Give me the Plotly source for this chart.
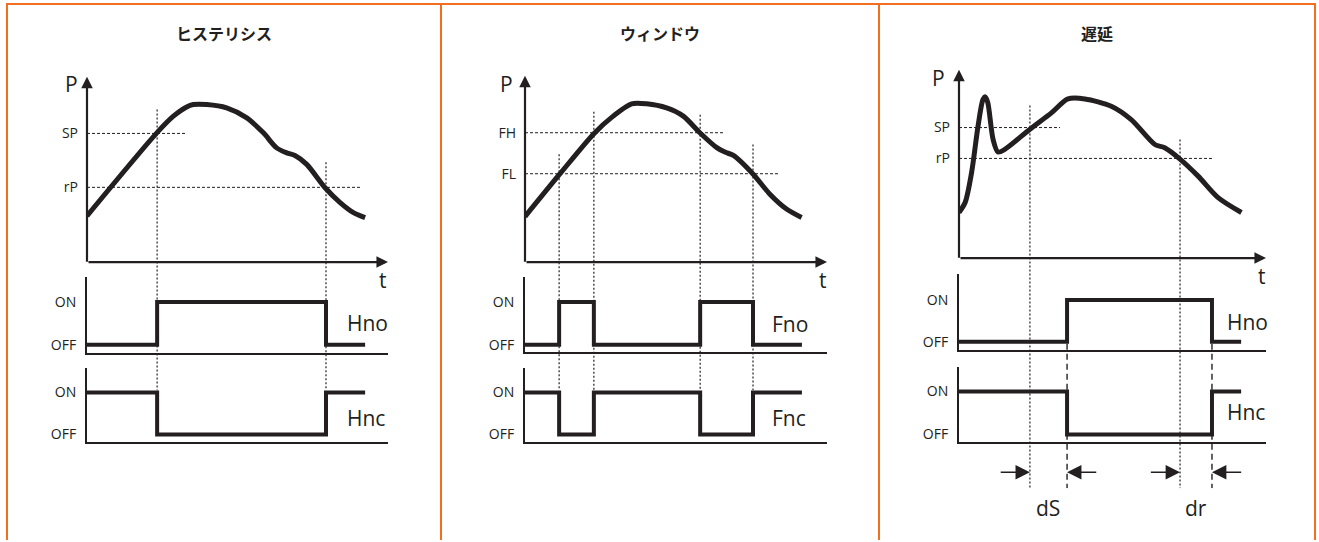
import plotly.graph_objects as go

# ── Canvas ───────────────────────────────────────────────────────────────────
W, H = 1319, 542
INK = "#231f20"
ORANGE = "#f26f21"
FONT = "Open Sans"
CJK = "Noto Sans CJK JP"

# ── Data ─────────────────────────────────────────────────────────────────────
titles = ["ヒステリシス", "ウィンドウ", "遅延"]
level_names = [["SP", "rP"], ["FH", "FL"], ["SP", "rP"]]
relay_names = [["Hno", "Hnc"], ["Fno", "Fnc"], ["Hno", "Hnc"]]
state_ticks = ["ON", "OFF"]

# pressure curves: t in 0..100 along the time axis, P in 0..100 up the P axis
hys_t = [0, 23.2, 28.7, 33.1, 35.3, 39.8, 46.4, 53.1, 58.6, 63.0, 66.4, 69.1, 73.0, 79.1, 84.1, 88.5, 92.4]
hys_p = [24.9, 69.7, 78.7, 83.7, 85.0, 85.0, 83.2, 77.8, 69.7, 61.6, 58.9, 57.5, 52.7, 40.1, 32.1, 26.7, 24.0]

win_t = [0, 11.4, 22.8, 29.2, 35.3, 40.3, 46.9, 52.4, 57.9, 63.5, 66.2, 69.0, 75.4, 81.1, 86.7, 91.6]
win_p = [24.4, 47.0, 68.9, 78.3, 84.9, 84.9, 82.7, 78.3, 69.4, 61.4, 59.0, 57.2, 47.4, 36.4, 28.3, 23.9]

dly_t = [0, 2.0, 4.1, 6.2, 7.8, 8.6, 9.4, 11.1, 12.7, 14.9, 23.0, 30.1, 35.5, 41.0, 49.6, 56.1, 63.8, 67.0, 71.9, 77.9, 84.4, 92.0]
dly_p = [24.2, 29.5, 45.4, 70.0, 84.1, 85.6, 82.4, 63.0, 56.3, 57.7, 68.3, 77.1, 84.5, 84.5, 80.6, 73.5, 60.3, 58.6, 52.7, 43.5, 32.1, 24.2]

# thresholds (same P units)
hys_levels = [69.4, 40.3]
win_levels = [69.4, 47.4]
dly_levels = [69.3, 52.9]

# instants where the curve crosses a threshold
hys_cross = [23.3, 79.4]
win_cross = [11.3, 22.8, 58.0, 75.5]
dly_cross = [23.1, 72.0]

# relay outputs: switching instants and states (1 = ON, 0 = OFF)
hys_relay_t = [0, 23.3, 79.4, 92.4]
hys_no = [0, 1, 0, 0]
hys_nc = [1, 0, 1, 1]

win_relay_t = [0, 11.3, 22.8, 58.0, 75.5, 91.7]
win_no = [0, 1, 0, 1, 0, 0]
win_nc = [1, 0, 1, 0, 1, 1]

dly_relay_t = [0, 35.2, 82.4, 91.9]
dly_no = [0, 1, 0, 0]
dly_nc = [1, 0, 1, 1]
dly_switch = [35.2, 82.4]

curves = [(hys_t, hys_p), (win_t, win_p), (dly_t, dly_p)]
levels = [hys_levels, win_levels, dly_levels]
crosses = [hys_cross, win_cross, dly_cross]
relays = [(hys_relay_t, hys_no, hys_nc), (win_relay_t, win_no, win_nc), (dly_relay_t, dly_no, dly_nc)]

# ── Layout geometry (pixels) ─────────────────────────────────────────────────
GEO = [
    dict(ox=87, xend=388, y0=263, ytop=77, ybot=392,
         no=(278, 303, 346, 354), nc=(369, 394, 436, 444),
         lvl_len=[32.6, 90.7], guide_top=[82.3, 53.8],
         P=(71, 84), t=(383, 281), rl=[(345, 324), (345, 420)], cx=224),
    dict(ox=525, xend=827, y0=263, ytop=76, ybot=392,
         no=(278, 303, 346, 353), nc=(369, 394, 436, 444),
         lvl_len=[66.2, 83.8], guide_top=[57.8, 80.7, 79.1, 63.1],
         P=(506, 84), t=(823, 281), rl=[(770, 325), (770, 420)], cx=660),
    dict(ox=959, xend=1266, y0=259, ytop=70, ybot=490,
         no=(275, 301, 343, 351), nc=(368, 393, 436, 444),
         lvl_len=[32.9, 82.7], guide_top=[81.0, 63.0],
         P=(939, 78), t=(1262, 277), rl=[(1225, 323), (1225, 414)], cx=1097),
]


def pxx(x):
    return x / W


def pxy(y):
    return 1 - y / H


def axname(n, a):
    return f"{a}axis" if n == 1 else f"{a}axis{n}"


def ref(n, a):
    return a if n == 1 else f"{a}{n}"


def label(x, y, text, size=21, xanchor="center", family=FONT, **kw):
    return dict(x=x, y=y, text=text, showarrow=False, xanchor=xanchor, yanchor="middle",
                font=dict(family=family, size=size, color=INK), **kw)


fig = go.Figure()
layout = {}
annotations = []
hidden = dict(showgrid=False, zeroline=False, fixedrange=True)

for i in range(3):
    g = GEO[i]
    nP, nNO, nNC = 3 * i + 1, 3 * i + 2, 3 * i + 3
    xdom = [pxx(g["ox"]), pxx(g["xend"])]
    p_per_px = 100 / (g["y0"] - g["ytop"])

    def p_at(ypx):
        return (g["y0"] - ypx) * p_per_px

    pmin = p_at(g["ybot"])

    # ── P vs t ──
    layout[axname(nP, "x")] = dict(domain=xdom, range=[0, 100], visible=False,
                                   anchor=ref(nP, "y"), **hidden)
    layout[axname(nP, "y")] = dict(
        domain=[pxy(g["ybot"]), pxy(g["ytop"])], range=[pmin, 100],
        anchor=ref(nP, "x"), showline=False, ticks="",
        tickvals=levels[i], ticktext=level_names[i],
        tickfont=dict(family=FONT, size=14, color=INK), ticklabelstandoff=8,
        **hidden)
    xr, yr = ref(nP, "x"), ref(nP, "y")

    for lv, ln in zip(levels[i], g["lvl_len"]):
        fig.add_trace(go.Scatter(x=[0, ln], y=[lv, lv], mode="lines",
                                 line=dict(color=INK, width=1, dash="3px,2px"),
                                 xaxis=xr, yaxis=yr, hoverinfo="skip"))
    for tc, top in zip(crosses[i], g["guide_top"]):
        fig.add_trace(go.Scatter(x=[tc, tc], y=[top, pmin], mode="lines",
                                 line=dict(color=INK, width=1.2, dash="2px,2px"),
                                 xaxis=xr, yaxis=yr, hoverinfo="skip"))
    if i == 2:
        for ts in dly_switch:
            fig.add_trace(go.Scatter(x=[ts, ts], y=[p_at(345), pmin], mode="lines",
                                     line=dict(color=INK, width=1.4, dash="6px,4px"),
                                     xaxis=xr, yaxis=yr, hoverinfo="skip"))
        ya = p_at(474)
        for head, tail in [(dly_cross[0], dly_cross[0] - 10), (dly_switch[0], dly_switch[0] + 10),
                           (dly_cross[1], dly_cross[1] - 10), (dly_switch[1], dly_switch[1] + 10)]:
            annotations.append(dict(x=head, y=ya, ax=tail, ay=ya, xref=xr, yref=yr,
                                    axref=xr, ayref=yr, text="", showarrow=True,
                                    arrowhead=2, arrowsize=1.8, arrowwidth=1.6,
                                    arrowcolor=INK))
        for mid, lab in [((dly_cross[0] + dly_switch[0]) / 2, "dS"),
                         ((dly_cross[1] + dly_switch[1]) / 2, "dr")]:
            annotations.append(label(mid, pxy(510), lab, xref=xr, yref="paper"))

    ct, cp = curves[i]
    fig.add_trace(go.Scatter(x=ct, y=cp, mode="lines",
                             line=dict(color=INK, width=5, shape="spline", smoothing=0.8),
                             xaxis=xr, yaxis=yr, hoverinfo="skip"))

    # axis arrows
    corner = -1.1 * p_per_px
    annotations.append(dict(x=0, y=100, ax=0, ay=corner, xref=xr, yref=yr, axref=xr,
                            ayref=yr, text="", showarrow=True, arrowhead=2,
                            arrowsize=1.05, arrowwidth=2.2, arrowcolor=INK))
    annotations.append(dict(x=100, y=0, ax=0, ay=0, xref=xr, yref=yr, axref=xr,
                            ayref=yr, text="", showarrow=True, arrowhead=2,
                            arrowsize=1.05, arrowwidth=2.2, arrowcolor=INK))

    # ── relay outputs ──
    rt, rno, rnc = relays[i]
    for n, box, st in [(nNO, g["no"], rno), (nNC, g["nc"], rnc)]:
        top, on, off, base = box
        span = off - on
        layout[axname(n, "x")] = dict(domain=xdom, range=[0, 100], anchor=ref(n, "y"),
                                      showline=True, linewidth=2, linecolor=INK,
                                      showticklabels=False, ticks="", **hidden)
        layout[axname(n, "y")] = dict(domain=[pxy(base), pxy(top)],
                                      range=[-(base - off) / span, 1 + (on - top) / span],
                                      anchor=ref(n, "x"), showline=True, linewidth=2,
                                      linecolor=INK, ticks="", tickvals=[1, 0],
                                      ticktext=state_ticks, ticklabelstandoff=6,
                                      tickfont=dict(family=FONT, size=14, color=INK),
                                      **hidden)
        fig.add_trace(go.Scatter(x=rt, y=st, mode="lines",
                                 line=dict(color=INK, width=4, shape="hv"),
                                 xaxis=ref(n, "x"), yaxis=ref(n, "y"), hoverinfo="skip"))

    # ── text ──
    annotations.append(label(pxx(g["cx"]), pxy(33), f"<b>{titles[i]}</b>", size=16,
                             family=CJK, xref="paper", yref="paper"))
    for lab, pos in [("P", g["P"]), ("t", g["t"])]:
        annotations.append(label(pxx(pos[0]), pxy(pos[1]), lab, xref="paper", yref="paper"))
    for lab, pos in zip(relay_names[i], g["rl"]):
        annotations.append(label(pxx(pos[0]), pxy(pos[1]), lab, xanchor="left",
                                 xref="paper", yref="paper"))

# ── orange frame ─────────────────────────────────────────────────────────────
frame = dict(color=ORANGE, width=2)
shapes = [dict(type="line", xref="paper", yref="paper", x0=pxx(6), x1=pxx(1316),
               y0=pxy(4), y1=pxy(4), line=frame)]
for xv in [7, 441, 879, 1315]:
    shapes.append(dict(type="line", xref="paper", yref="paper", x0=pxx(xv), x1=pxx(xv),
                       y0=pxy(4), y1=0, line=frame))

fig.update_layout(
    **layout,
    annotations=annotations,
    shapes=shapes,
    width=W, height=H,
    margin=dict(l=0, r=0, t=0, b=0),
    paper_bgcolor="white",
    plot_bgcolor="rgba(0,0,0,0)",
    showlegend=False,
)

# drop the browser's default body margin so the figure fills the window
fig.write_html("out.html", config=dict(displayModeBar=False),
               post_script="document.body.style.margin = '0';")
